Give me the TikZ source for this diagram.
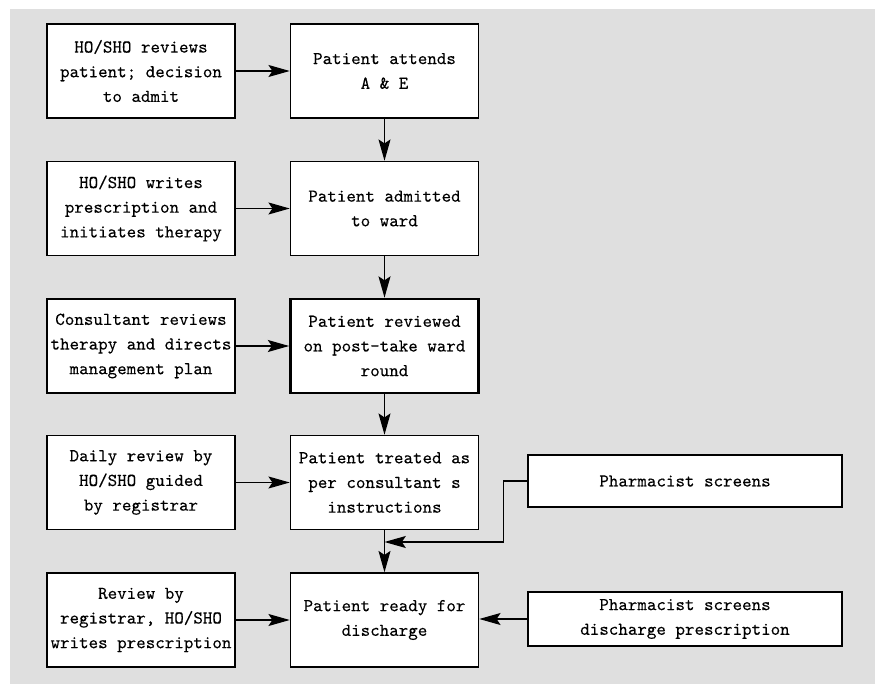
\documentclass[tikz,border=0pt]{standalone}
\usepackage{fontspec}
\newfontfamily\boxfont{lmmono10-regular.otf}[FakeBold=0.2]
\usetikzlibrary{arrows.meta}

\begin{document}
\begin{tikzpicture}[x=0.75pt,y=-0.75pt,
  box/.style={draw,line width=1.1pt,fill=white,minimum width=141pt,minimum height=70.5pt,
    align=center,inner sep=1pt,font=\boxfont\fontsize{13.6}{18.5}\selectfont},
  wide/.style={box,minimum width=235.5pt,minimum height=39pt},
  arr/.style={line width=1pt,-{Stealth[length=16pt,width=9pt,inset=3pt]}}]
\useasboundingbox (0,0) rectangle (875,684);
\fill[gray!25] (10,9) rectangle (875,684);

% centre column
\node[box] (attend) at (384.5,71) {Patient attends\\A \& E};
\node[box] (admit) at (384.5,208.5) {Patient admitted\\to ward};
\node[box,line width=2pt] (ptwr) at (384.5,346) {Patient reviewed\\on post-take ward\\round};
\node[box] (treat) at (384.5,482.5) {Patient treated as\\per consultant s\\instructions};
\node[box] (ready) at (384.5,620) {Patient ready for\\discharge};

% left column
\node[box] (hoadmit) at (141,71) {HO/SHO reviews\\patient; decision\\to admit};
\node[box] (howrite) at (141,208.5) {HO/SHO writes\\prescription and\\initiates therapy};
\node[box] (cons) at (141,346) {Consultant reviews\\therapy and directs\\management plan};
\node[box] (daily) at (141,482.5) {Daily review by\\HO/SHO guided\\by registrar};
\node[box] (regrev) at (141,620) {Review by\\registrar, HO/SHO\\writes prescription};

% pharmacist
\node[wide] (pharm) at (685,481) {Pharmacist screens};
\node[wide,minimum height=40.5pt] (pharmdis) at (685,619) {Pharmacist screens\\discharge prescription};
\coordinate (join) at (384.5,542);

\draw[arr] (attend) -- (admit);
\draw[arr] (admit) -- (ptwr);
\draw[arr] (ptwr) -- (treat);
\draw[arr] (treat) -- (ready);

\draw[arr] (hoadmit) -- (attend);
\draw[arr] (howrite) -- (admit);
\draw[arr] (cons) -- (ptwr);
\draw[arr] (daily) -- (treat);
\draw[arr] (regrev) -- (ready);

\draw[arr] (pharm.west) -- ++(-24,0) |- (join);
\draw[arr] (pharmdis.west) -- (ready.east |- pharmdis.west);
\end{tikzpicture}
\end{document}
